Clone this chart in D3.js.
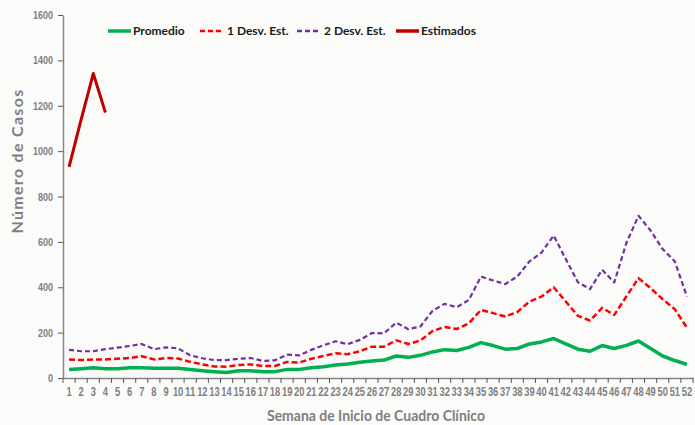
<!DOCTYPE html>
<html>
<head>
<meta charset="utf-8">
<script src="https://cdn.jsdelivr.net/npm/d3@7"></script>
<style>
  body { margin: 0; background: #fbfbf9; }
  svg { display: block; }
</style>
</head>
<body>
<div id="chart"></div>
<script>
// Casos por semana epidemiologica
var weeks = d3.range(1, 53);

var promedio = [38, 41, 45, 41, 41, 45, 45, 43, 43, 43, 37, 32, 28, 24, 32, 32, 28, 28, 38, 38,
                45, 50, 57, 62, 69, 75, 79, 97, 91, 100, 115, 125, 121, 135, 156, 143, 127, 130, 150, 159,
                174, 150, 127, 118, 143, 130, 144, 163, 130, 97, 77, 60];
var desv1 = [82, 79, 82, 82, 85, 88, 96, 82, 88, 86, 71, 60, 51, 50, 57, 60, 53, 53, 71, 68,
             85, 97, 109, 105, 118, 138, 138, 166, 150, 165, 207, 225, 216, 241, 300, 286, 271, 291, 337, 359,
             400, 337, 274, 253, 309, 278, 359, 440, 396, 347, 303, 222];
var desv2 = [124, 118, 118, 127, 134, 141, 150, 127, 135, 131, 100, 87, 79, 79, 85, 88, 75, 78, 103, 100,
             124, 144, 162, 149, 168, 198, 197, 244, 215, 227, 296, 327, 312, 344, 447, 430, 414, 447, 514, 553,
             628, 524, 422, 392, 477, 421, 595, 715, 650, 568, 514, 359];
var estimados = [931, 1140, 1342, 1170];

var yTicks = d3.range(0, 1601, 200);

var W = 695, H = 425;
var svg = d3.select("#chart").append("svg")
    .attr("width", W)
    .attr("height", H);

var x = d3.scaleBand().domain(weeks).range([63, 693]).padding(0);
var y = d3.scaleLinear().domain([0, 1600]).range([378, 15]);
var cx = function(w) { return x(w) + x.bandwidth() / 2; };

var tickFont = "'Liberation Sans', Arial, sans-serif";
var titleFont = "Lato, 'Open Sans', sans-serif";
var grey = "#7f7f7f";

// y axis
var yAxis = svg.append("g")
    .attr("transform", "translate(63,0)")
    .call(d3.axisLeft(y).tickValues(yTicks).tickFormat(d3.format("d"))
      .tickSize(5).tickSizeOuter(0).tickPadding(5));
yAxis.select(".domain").attr("stroke", "#868686").attr("stroke-width", 1.5);
yAxis.selectAll(".tick line").attr("stroke", "#595959");
yAxis.selectAll("text")
    .style("font-family", tickFont).style("font-size", "11px").style("font-weight", "bold")
    .attr("fill", grey)
    .attr("textLength", function(d) { return String(d).length * 5; })
    .attr("lengthAdjust", "spacingAndGlyphs");

// x axis
var xAxis = svg.append("g")
    .attr("transform", "translate(0,378)")
    .call(d3.axisBottom(x).tickSize(0).tickPadding(9));
xAxis.select(".domain").attr("stroke", "#868686").attr("stroke-width", 1.5);
xAxis.selectAll("text")
    .style("font-family", tickFont).style("font-size", "12px").style("font-weight", "bold")
    .attr("fill", grey)
    .attr("textLength", function(d) { return String(d).length * 5.2; })
    .attr("lengthAdjust", "spacingAndGlyphs");
// tick marks between categories
xAxis.selectAll(".cat-tick")
    .data(weeks.concat([53]))
  .enter().append("line")
    .attr("class", "cat-tick")
    .attr("x1", function(w) { return w <= 52 ? x(w) : x(52) + x.bandwidth(); })
    .attr("x2", function(w) { return w <= 52 ? x(w) : x(52) + x.bandwidth(); })
    .attr("y1", 0).attr("y2", 5)
    .attr("stroke", "#595959");

// axis titles
svg.append("text")
    .attr("transform", "translate(23,161) rotate(-90)")
    .attr("text-anchor", "middle")
    .style("font-family", titleFont)
    .style("font-size", "16px").style("font-weight", "bold")
    .style("letter-spacing", "1.3px")
    .attr("fill", grey)
    .text("Número de Casos");

svg.append("text")
    .attr("x", 267).attr("y", 421)
    .attr("textLength", 218)
    .attr("lengthAdjust", "spacingAndGlyphs")
    .style("font-family", titleFont)
    .style("font-size", "15.5px").style("font-weight", "bold")
    .attr("fill", grey)
    .text("Semana de Inicio de Cuadro Clínico");

// series
var line = d3.line()
    .x(function(d, i) { return cx(weeks[i]); })
    .y(function(d) { return y(d); });

var series = [
  { name: "2 Desv. Est.", data: desv2, color: "#7030a0", width: 2.2, dash: "5,3" },
  { name: "1 Desv. Est.", data: desv1, color: "#ff0000", width: 2.5, dash: "6,3" },
  { name: "Promedio", data: promedio, color: "#00b050", width: 3.5, dash: null },
  { name: "Estimados", data: estimados, color: "#c00000", width: 3, dash: null }
];

svg.selectAll(".serie")
    .data(series)
  .enter().append("path")
    .attr("class", "serie")
    .attr("d", function(s) { return line(s.data); })
    .attr("fill", "none")
    .attr("stroke", function(s) { return s.color; })
    .attr("stroke-width", function(s) { return s.width; })
    .attr("stroke-dasharray", function(s) { return s.dash; })
    .attr("stroke-linejoin", "round");

// legend
var legendItems = [
  { name: "Promedio", color: "#00b050", width: 3.5, dash: null, x: 108 },
  { name: "1 Desv. Est.", color: "#ff0000", width: 2.5, dash: "5,3", x: 200 },
  { name: "2 Desv. Est.", color: "#7030a0", width: 2.5, dash: "5,3", x: 297 },
  { name: "Estimados", color: "#c00000", width: 3.5, dash: null, x: 396 }
];

var leg = svg.selectAll(".leg")
    .data(legendItems)
  .enter().append("g")
    .attr("class", "leg")
    .attr("transform", function(d) { return "translate(" + d.x + ",31)"; });
leg.append("line")
    .attr("x1", 0).attr("x2", 23).attr("y1", 0).attr("y2", 0)
    .attr("stroke", function(d) { return d.color; })
    .attr("stroke-width", function(d) { return d.width; })
    .attr("stroke-dasharray", function(d) { return d.dash; });
leg.append("text")
    .attr("x", function(d) { return d.dash ? 27 : 25; })
    .attr("y", 4)
    .style("font-family", titleFont)
    .style("font-size", "12px").style("font-weight", "bold")
    .attr("fill", "#1a1a1a")
    .text(function(d) { return d.name; });
</script>
</body>
</html>
